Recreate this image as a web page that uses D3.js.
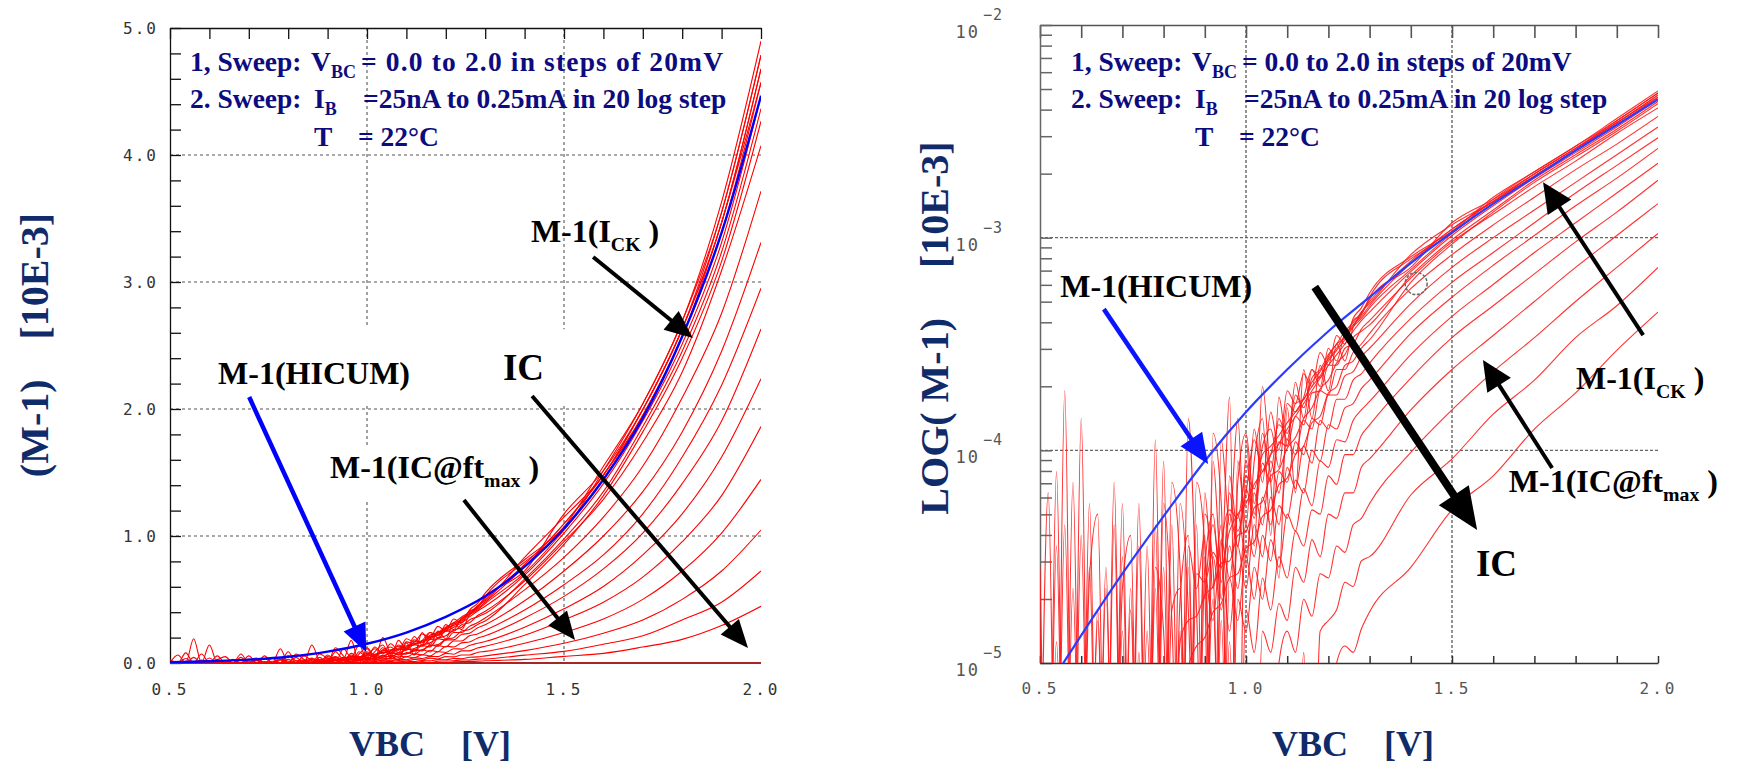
<!DOCTYPE html>
<html><head><meta charset="utf-8">
<script src="https://cdn.jsdelivr.net/npm/d3@7"></script>
<style>body{margin:0;background:#fff}svg{display:block}</style>
</head><body>
<svg id="chart" width="1753" height="768"></svg>
<script>
// ---------------- DATA (values are log10(M-1)) ----------------
const vCoarse = [0.5,0.6,0.7,0.8,0.9,1.0,1.1,1.2,1.3,1.4,1.5,1.6,1.7,1.8,1.9,2.0];
const vFine = [0.50,0.52,0.54,0.56,0.58,0.60,0.62,0.64,0.66,0.68,0.70,0.72,0.74,0.76,0.78,0.80,0.82,0.84,0.86,0.88,
               0.90,0.92,0.94,0.96,0.98,1.00,1.02,1.04,1.06,1.08,1.10,1.12,1.14,1.16,1.18,1.20,1.22,1.24,1.26,1.28];
const vMid = [0.90,0.92,0.94,0.96,0.98,1.00,1.02,1.04,1.06,1.08,1.10,1.12,1.14,1.16,1.18,1.20,1.22,1.24,1.26,1.28];
const vTail = [1.3,1.4,1.5,1.6,1.7,1.8,1.9,2.0];

// HICUM model (blue)
const hicumLog = [-5.17,-4.87,-4.58,-4.31,-4.05,-3.82,-3.62,-3.44,-3.28,-3.12,-2.975,-2.84,-2.715,-2.59,-2.47,-2.35];

// low-IB measured curves: noisy part (20 mV steps, 0.50..1.28 V); -6 = below range / negative
const lowIbFine = [
 [-6,-4.2,-6,-3.72,-6,-6,-4.55,-6,-6,-4.15,-6,-4.75,-6,-6,-3.95,-6,-4.35,-6,-3.85,-4.75,-6,-4.05,-4.55,-3.75,-6,-3.95,-4.45,-3.7,-4.15,-4.6,-3.8,-4.2,-3.62,-3.85,-3.6,-3.72,-3.5,-3.58,-3.42,-3.36],
 [-4.55,-6,-6,-4.35,-6,-3.85,-6,-6,-4.65,-6,-4.25,-6,-6,-4.45,-6,-4.05,-6,-4.85,-6,-4.15,-4.45,-6,-3.95,-4.35,-3.85,-4.55,-4.05,-3.85,-4.4,-3.75,-3.98,-3.68,-3.85,-3.62,-3.7,-3.52,-3.58,-3.45,-3.42,-3.35],
 [-6,-6,-4.45,-6,-4.15,-6,-6,-4.75,-6,-4.35,-6,-6,-4.25,-6,-4.65,-6,-4.15,-4.55,-6,-4.35,-6,-3.92,-4.25,-6,-4.15,-3.92,-4.25,-3.98,-3.9,-4.08,-3.78,-3.82,-3.75,-3.62,-3.66,-3.56,-3.5,-3.47,-3.39,-3.36],
 [-6,-6,-6,-6,-4.65,-6,-4.25,-6,-6,-6,-4.85,-6,-4.45,-6,-6,-4.55,-6,-4.25,-4.75,-6,-4.3,-4.55,-6,-4.12,-4.38,-4.2,-3.95,-4.1,-4.02,-3.88,-3.92,-3.78,-3.76,-3.68,-3.63,-3.57,-3.52,-3.46,-3.41,-3.37],
 [-6,-6,-6,-6,-6,-6,-6,-6,-4.55,-6,-6,-4.65,-6,-6,-4.55,-4.85,-6,-6,-4.45,-4.65,-4.4,-6,-4.45,-4.28,-4.32,-4.12,-4.18,-4.02,-3.98,-3.93,-3.87,-3.82,-3.76,-3.7,-3.65,-3.58,-3.53,-3.48,-3.42,-3.38],
 [-6,-6,-6,-6,-6,-6,-6,-6,-6,-6,-6,-6,-6,-4.85,-6,-6,-4.75,-4.65,-6,-4.58,-4.62,-4.48,-4.55,-4.38,-4.3,-4.25,-4.16,-4.1,-4.02,-3.97,-3.9,-3.84,-3.78,-3.72,-3.66,-3.6,-3.55,-3.5,-3.44,-3.39],
 [-6,-6,-6,-6,-6,-6,-6,-6,-6,-6,-6,-6,-6,-6,-6,-6,-6,-4.9,-4.8,-4.78,-4.68,-4.64,-4.53,-4.52,-4.4,-4.38,-4.27,-4.24,-4.12,-4.09,-3.99,-3.94,-3.85,-3.8,-3.71,-3.67,-3.59,-3.55,-3.47,-3.44],
 [-6,-6,-6,-6,-6,-6,-6,-6,-6,-6,-6,-6,-6,-6,-6,-6,-6,-6,-5.02,-4.92,-4.88,-4.76,-4.72,-4.6,-4.58,-4.46,-4.43,-4.31,-4.28,-4.16,-4.13,-4.02,-3.98,-3.87,-3.84,-3.73,-3.7,-3.6,-3.58,-3.52],
 [-6,-6,-4.9,-6,-6,-4.4,-6,-4.8,-6,-6,-4.5,-6,-4.95,-6,-4.35,-6,-6,-4.7,-4.4,-6,-4.55,-4.3,-4.7,-4.2,-4.45,-4.05,-4.3,-3.92,-4.1,-3.85,-3.95,-3.74,-3.8,-3.66,-3.62,-3.55,-3.5,-3.44,-3.4,-3.35],
 [-4.8,-6,-4.1,-6,-6,-6,-4.6,-4.3,-6,-6,-4.65,-4.4,-6,-6,-6,-4.25,-4.8,-6,-4.55,-6,-4.2,-4.65,-4.35,-6,-4.05,-4.35,-3.9,-4.15,-3.82,-4.0,-3.72,-3.78,-3.64,-3.7,-3.54,-3.6,-3.46,-3.5,-3.38,-3.33]
];
// low-IB measured curves: upper part (1.3..2.0 V)
const lowIbTail = [
 [-3.28,-3.10,-2.98,-2.82,-2.69,-2.57,-2.44,-2.31],
 [-3.31,-3.08,-2.94,-2.83,-2.70,-2.58,-2.45,-2.32],
 [-3.29,-3.14,-2.93,-2.82,-2.70,-2.58,-2.46,-2.33],
 [-3.32,-3.12,-2.96,-2.83,-2.71,-2.59,-2.46,-2.34],
 [-3.33,-3.15,-2.98,-2.84,-2.71,-2.59,-2.47,-2.34],
 [-3.35,-3.16,-2.99,-2.85,-2.72,-2.60,-2.48,-2.35],
 [-3.41,-3.18,-3.01,-2.87,-2.73,-2.61,-2.49,-2.36],
 [-3.48,-3.21,-3.03,-2.88,-2.74,-2.62,-2.50,-2.37],
 [-3.30,-3.11,-2.96,-2.83,-2.70,-2.58,-2.46,-2.33],
 [-3.26,-3.09,-2.97,-2.81,-2.69,-2.57,-2.45,-2.32]
];
// high-IB measured curves: low part (20 mV steps, 0.90..1.28 V)
const highIbMid = [
 [-4.7,-4.35,-4.62,-4.3,-4.45,-4.18,-4.32,-4.06,-4.15,-3.96,-3.98,-3.84,-3.88,-3.73,-3.72,-3.6,-3.6,-3.52,-3.5,-3.43],
 [-4.5,-4.8,-4.42,-4.6,-4.3,-4.5,-4.2,-4.35,-4.05,-4.2,-3.95,-4.02,-3.86,-3.9,-3.72,-3.74,-3.62,-3.62,-3.54,-3.5],
 [-6,-4.5,-4.75,-4.45,-4.65,-4.35,-4.5,-4.22,-4.35,-4.1,-4.15,-3.96,-4.02,-3.85,-3.88,-3.74,-3.74,-3.65,-3.63,-3.56],
 [-4.6,-6,-4.55,-4.85,-4.45,-4.65,-4.35,-4.5,-4.22,-4.35,-4.08,-4.18,-3.98,-4.06,-3.86,-3.9,-3.76,-3.76,-3.67,-3.64],
 [-6,-4.7,-6,-4.6,-4.8,-4.5,-4.7,-4.4,-4.52,-4.26,-4.32,-4.14,-4.2,-4.0,-4.05,-3.88,-3.9,-3.8,-3.78,-3.71],
 [-6,-6,-4.8,-6,-4.7,-4.85,-4.55,-4.7,-4.42,-4.55,-4.3,-4.38,-4.18,-4.26,-4.05,-4.08,-3.95,-3.96,-3.86,-3.81],
 [-6,-6,-6,-4.9,-6,-4.75,-4.95,-4.6,-4.75,-4.5,-4.6,-4.38,-4.45,-4.28,-4.3,-4.12,-4.16,-4.02,-4.02,-3.93],
 [-6,-6,-6,-6,-6,-5.0,-6,-4.85,-4.95,-4.72,-4.8,-4.55,-4.62,-4.42,-4.5,-4.3,-4.32,-4.2,-4.2,-4.08],
 [-6,-6,-6,-6,-6,-6,-6,-6,-6,-5.0,-4.85,-4.95,-4.7,-4.78,-4.58,-4.6,-4.45,-4.48,-4.35,-4.32],
 [-6,-6,-6,-6,-6,-6,-6,-6,-6,-6,-6,-6,-4.95,-6,-4.85,-4.8,-4.75,-4.62,-4.64,-4.52],
 [-6,-6,-6,-6,-6,-6,-6,-6,-6,-6,-6,-6,-6,-6,-6,-6,-5.0,-4.92,-4.95,-4.84]
];
// high-IB measured curves: upper part (1.3..2.0 V)
const highIbTail = [
 [-3.39,-3.19,-3.02,-2.89,-2.76,-2.64,-2.51,-2.39],
 [-3.45,-3.24,-3.08,-2.94,-2.81,-2.68,-2.56,-2.43],
 [-3.52,-3.31,-3.14,-3.00,-2.87,-2.74,-2.61,-2.48],
 [-3.59,-3.38,-3.21,-3.07,-2.93,-2.79,-2.66,-2.53],
 [-3.67,-3.45,-3.28,-3.13,-2.99,-2.85,-2.72,-2.58],
 [-3.77,-3.55,-3.37,-3.22,-3.07,-2.93,-2.79,-2.65],
 [-3.88,-3.66,-3.47,-3.32,-3.17,-3.02,-2.88,-2.73],
 [-4.04,-3.81,-3.62,-3.46,-3.30,-3.14,-2.99,-2.84],
 [-4.25,-4.01,-3.81,-3.63,-3.47,-3.30,-3.14,-2.98],
 [-4.50,-4.21,-4.04,-3.83,-3.67,-3.47,-3.32,-3.14],
 [-4.76,-4.55,-4.28,-4.12,-3.90,-3.73,-3.53,-3.35]
];
// highest IB: M-1 <= 0 over the whole sweep
const maxIbLog = [-9,-9,-9,-9,-9,-9,-9,-9,-9,-9,-9,-9,-9,-9,-9,-9];

const xTickVals = [0.5,1.0,1.5,2.0];
const linTickVals = [0,1,2,3,4,5];
const logTickVals = [1e-5,1e-4,1e-3,1e-2];
const xGridVals = [1.0,1.5];
const linGridVals = [1,2,3,4];
const logGridVals = [1e-4,1e-3];

// annotations (data coordinates)
const annL = {
  labels:[
    {parts:[["M-1(I"],["CK",1],[" )"]], v:1.416, m:3.315, size:32},
    {parts:[["M-1(HICUM)"]], v:0.622, m:2.197, size:32, box:[8,34,8,12]},
    {parts:[["IC"]], v:1.345, m:2.228, size:37, box:[8,24,27,18]},
    {parts:[["M-1(IC@ft"],["max",1],[" )"]], v:0.906, m:1.457, size:32, box:[8,8,8,10]}
  ],
  arrows:[
    {a:[0.701,2.094], b:[0.998,0.087], c:"#0000ff", w:4.5, hl:28, hw:24},
    {a:[1.574,3.197], b:[1.827,2.559], c:"#000", w:4, hl:28, hw:24},
    {a:[1.419,2.102], b:[1.967,0.118], c:"#000", w:4, hl:28, hw:24},
    {a:[1.246,1.283], b:[1.528,0.181], c:"#000", w:4, hl:28, hw:24}
  ]
};
const annR = {
  labels:[
    {parts:[["M-1(HICUM)"]], v:0.549, lg:-3.279, size:32},
    {parts:[["IC"]], v:1.558, lg:-4.591, size:37},
    {parts:[["M-1(I"],["CK",1],[" )"]], v:1.801, lg:-3.712, size:32},
    {parts:[["M-1(IC@ft"],["max",1],[" )"]], v:1.638, lg:-4.196, size:32}
  ],
  arrows:[
    {a:[0.655,-3.336], b:[0.908,-4.064], c:"#0a14ff", w:4.5, hl:30, hw:26},
    {a:[1.167,-3.232], b:[1.561,-4.375], c:"#000", w:8, hl:42, hw:36},
    {a:[1.964,-3.458], b:[1.721,-2.739], c:"#000", w:4, hl:30, hw:28},
    {a:[1.743,-4.083], b:[1.575,-3.575], c:"#000", w:4, hl:30, hw:28}
  ],
  circle:{v:1.413, lg:-3.216}
};

// ---------------- DRAWING ----------------
const svg = d3.select("#chart");
const SERIF = "'Liberation Serif','Times New Roman',serif";
const MONO = "'DejaVu Sans Mono',monospace";
const NAVY = "#0c0c80", TITLE = "#102b6a";

const xL = d3.scaleLinear([0.5,2.0],[170,761]);
const yL = d3.scaleLinear([0,5],[663,28]);
const xR = d3.scaleLinear([0.5,2.0],[1040,1658]);
const yR = d3.scaleLog([1e-5,1e-2],[663,25]);

function buildSeries(){
  const out = [];
  lowIbFine.forEach((f,k)=>{
    out.push(vFine.map((v,i)=>[v,f[i]]).concat(vTail.map((v,i)=>[v,lowIbTail[k][i]])));
  });
  highIbMid.forEach((f,k)=>{
    out.push(vMid.map((v,i)=>[v,f[i]]).concat(vTail.map((v,i)=>[v,highIbTail[k][i]])));
  });
  out.push(vCoarse.map((v,i)=>[v,maxIbLog[i]]));
  return out;
}
const measured = buildSeries();
const hicum = vCoarse.map((v,i)=>[v,hicumLog[i]]);

const defs = svg.append("defs");
defs.append("clipPath").attr("id","clipL").append("rect")
  .attr("x",xL(0.5)).attr("y",yL(5)).attr("width",xL(2.0)-xL(0.5)).attr("height",yL(0)-yL(5)+1.5);
defs.append("clipPath").attr("id","clipR").append("rect")
  .attr("x",xR(0.5)).attr("y",yR(1e-2)).attr("width",xR(2.0)-xR(0.5)).attr("height",yR(1e-5)-yR(1e-2));

function label(g,x,y,parts,size,color){
  const t = g.append("text").attr("x",x).attr("y",y).attr("font-family",SERIF)
    .attr("font-weight","bold").attr("font-size",size).attr("fill",color||"#000").style("white-space","pre");
  let shifted = false;
  parts.forEach(p=>{
    const ts = t.append("tspan").text(p[0]);
    if(p[1]){ ts.attr("font-size",size*0.62).attr("dy",size*0.27); shifted=true; }
    else if(shifted){ ts.attr("dy",-size*0.27); shifted=false; }
  });
  return t;
}
function arrow(g,x1,y1,x2,y2,c,w,hl,hw){
  const dx=x2-x1, dy=y2-y1, L=Math.hypot(dx,dy), ux=dx/L, uy=dy/L;
  const bx=x2-ux*hl, by=y2-uy*hl;
  g.append("line").attr("x1",x1).attr("y1",y1).attr("x2",bx+ux*3).attr("y2",by+uy*3)
    .attr("stroke",c).attr("stroke-width",w);
  g.append("path").attr("d",`M${x2},${y2}L${bx-uy*hw/2},${by+ux*hw/2}L${bx+uy*hw/2},${by-ux*hw/2}Z`).attr("fill",c);
}
function infoText(g,x0,line1Len){
  const s=27.5, sub=18;
  label(g,x0,71,[["1, Sweep:"]],s,NAVY);
  const v = g.append("text").attr("x",x0+121).attr("y",71).attr("font-family",SERIF).attr("font-weight","bold")
    .attr("font-size",s).attr("fill",NAVY);
  v.append("tspan").text("V"); v.append("tspan").attr("font-size",sub).attr("dy",7).text("BC");
  const l1 = label(g,x0+171,71,[["= 0.0 to 2.0 in steps of 20mV"]],s,NAVY);
  if(line1Len) l1.attr("textLength",line1Len).attr("lengthAdjust","spacing");
  label(g,x0,108,[["2. Sweep:"]],s,NAVY);
  const ib = g.append("text").attr("x",x0+124).attr("y",108).attr("font-family",SERIF).attr("font-weight","bold")
    .attr("font-size",s).attr("fill",NAVY);
  ib.append("tspan").text("I"); ib.append("tspan").attr("font-size",sub).attr("dy",7).text("B");
  label(g,x0+173,108,[["=25nA to 0.25mA in 20 log step"]],s,NAVY);
  label(g,x0+124,146,[["T"]],s,NAVY);
  label(g,x0+168,146,[["= 22°C"]],s,NAVY);
}

// ===== LEFT PLOT =====
const gl = svg.append("g");
gl.selectAll(".hg").data(linGridVals).join("line").attr("x1",xL(0.5)).attr("x2",xL(2.0))
  .attr("y1",d=>yL(d)).attr("y2",d=>yL(d)).attr("stroke","#555").attr("stroke-dasharray","3,3").attr("stroke-width",1.1);
gl.selectAll(".vg").data(xGridVals).join("line").attr("y1",yL(5)).attr("y2",yL(0))
  .attr("x1",d=>xL(d)).attr("x2",d=>xL(d)).attr("stroke","#555").attr("stroke-dasharray","3,3").attr("stroke-width",1.1);
gl.append("g").attr("transform",`translate(0,${yL(5)})`)
  .call(d3.axisBottom(xL).ticks(15).tickSize(11).tickSizeOuter(0).tickFormat(""))
  .call(g=>g.selectAll("line,path").attr("stroke","#111").attr("stroke-width",1.3));
gl.append("g").attr("transform",`translate(${xL(0.5)},0)`)
  .call(d3.axisRight(yL).ticks(25).tickSize(11).tickSizeOuter(0).tickFormat(""))
  .call(g=>g.selectAll("line,path").attr("stroke","#111").attr("stroke-width",1.3));
gl.append("line").attr("x1",xL(0.5)).attr("x2",xL(2.0)).attr("y1",yL(0)).attr("y2",yL(0)).attr("stroke","#111").attr("stroke-width",1.3);
gl.append("g").attr("transform",`translate(${xL(0.5)},0)`)
  .call(d3.axisLeft(yL).tickValues(linTickVals).tickSize(0).tickPadding(12).tickFormat(d3.format(".1f")))
  .call(g=>g.select(".domain").remove())
  .call(g=>g.selectAll("text").attr("font-family",MONO).attr("font-size",16).attr("fill","#333").attr("letter-spacing",2));
gl.append("g").attr("transform",`translate(0,${yL(0)})`)
  .call(d3.axisBottom(xL).tickValues(xTickVals).tickSize(0).tickPadding(21).tickFormat(d3.format(".1f")))
  .call(g=>g.select(".domain").remove())
  .call(g=>g.selectAll("text").attr("font-family",MONO).attr("font-size",16).attr("fill","#333").attr("letter-spacing",3));
const lineL = d3.line().x(d=>xL(d[0])).y(d=>yL(Math.pow(10,d[1])*1e3)).curve(d3.curveMonotoneX);
const cl = gl.append("g").attr("clip-path","url(#clipL)");
cl.selectAll(".m").data(measured).join("path").attr("d",lineL).attr("fill","none").attr("stroke","#ff0000").attr("stroke-width",1.1);
cl.append("path").datum(hicum).attr("d",lineL).attr("fill","none").attr("stroke","#0000ff").attr("stroke-width",2.4);
infoText(gl,190,362);
annL.labels.forEach(l=>{
  const x=xL(l.v), y=yL(l.m);
  const t = label(gl,x,y,l.parts,l.size);
  if(l.box){
    const b=t.node().getBBox();
    gl.insert("rect",()=>t.node()).attr("x",b.x-l.box[0]).attr("y",b.y-l.box[1]+(b.height*0.15))
      .attr("width",b.width+l.box[0]+l.box[2]).attr("height",b.height*0.85+l.box[1]+l.box[3]).attr("fill","#fff");
  }
});
annL.arrows.forEach(a=>arrow(gl,xL(a.a[0]),yL(a.a[1]),xL(a.b[0]),yL(a.b[1]),a.c,a.w,a.hl,a.hw));
gl.append("text").attr("transform",`translate(48,345) rotate(-90)`).attr("text-anchor","middle")
  .attr("font-family",SERIF).attr("font-weight","bold").attr("font-size",40).attr("fill",TITLE)
  .style("white-space","pre").text("(M-1)    [10E-3]");
gl.append("text").attr("x",430).attr("y",756).attr("text-anchor","middle")
  .attr("font-family",SERIF).attr("font-weight","bold").attr("font-size",36).attr("fill",TITLE)
  .style("white-space","pre").text("VBC    [V]");

// ===== RIGHT PLOT =====
const gr = svg.append("g");
gr.selectAll(".hg").data(logGridVals).join("line").attr("x1",xR(0.5)).attr("x2",xR(2.0))
  .attr("y1",d=>yR(d)).attr("y2",d=>yR(d)).attr("stroke","#666").attr("stroke-dasharray","3,2").attr("stroke-width",1.4);
gr.selectAll(".vg").data(xGridVals).join("line").attr("y1",yR(1e-2)).attr("y2",yR(1e-5))
  .attr("x1",d=>xR(d)).attr("x2",d=>xR(d)).attr("stroke","#666").attr("stroke-dasharray","3,2").attr("stroke-width",1.4);
gr.append("g").attr("transform",`translate(0,${yR(1e-2)})`)
  .call(d3.axisBottom(xR).ticks(15).tickSize(13).tickSizeOuter(0).tickFormat(""))
  .call(g=>g.selectAll("line,path").attr("stroke","#555").attr("stroke-width",1.6));
gr.append("g").attr("transform",`translate(${xR(0.5)},0)`)
  .call(d3.axisRight(yR).tickValues(yR.ticks()).tickSize(12).tickSizeOuter(0).tickFormat(""))
  .call(g=>g.selectAll("line,path").attr("stroke","#666").attr("stroke-width",1.5));
gr.append("g").attr("transform",`translate(0,${yR(1e-5)})`)
  .call(d3.axisTop(xR).ticks(15).tickSize(7).tickSizeOuter(0).tickFormat(""))
  .call(g=>g.selectAll("line,path").attr("stroke","#333").attr("stroke-width",1.5));
logTickVals.forEach(v=>{
  const y=yR(v);
  gr.append("text").attr("x",980).attr("y",y+13).attr("text-anchor","end")
    .attr("font-family",MONO).attr("font-size",17).attr("fill","#555").attr("letter-spacing",2).text("10");
  gr.append("text").attr("x",983).attr("y",y-5).attr("font-family",MONO).attr("font-size",15)
    .attr("fill","#555").attr("letter-spacing",1).text("−"+Math.round(-Math.log10(v)));
});
gr.append("g").attr("transform",`translate(0,${yR(1e-5)})`)
  .call(d3.axisBottom(xR).tickValues(xTickVals).tickSize(0).tickPadding(20).tickFormat(d3.format(".1f")))
  .call(g=>g.select(".domain").remove())
  .call(g=>g.selectAll("text").attr("font-family",MONO).attr("font-size",16).attr("fill","#555").attr("letter-spacing",3));
const lineR = d3.line().x(d=>xR(d[0])).y(d=>yR(Math.pow(10,d[1]))).curve(d3.curveMonotoneX);
const cr = gr.append("g").attr("clip-path","url(#clipR)");
cr.selectAll(".m").data(measured).join("path").attr("d",lineR).attr("fill","none").attr("stroke","#ff1a1a").attr("stroke-width",1.1).attr("opacity",0.9);
cr.append("path").datum(hicum).attr("d",lineR).attr("fill","none").attr("stroke","#2a3cff").attr("stroke-width",2.2);
gr.append("circle").attr("cx",xR(annR.circle.v)).attr("cy",yR(Math.pow(10,annR.circle.lg))).attr("r",11)
  .attr("fill","none").attr("stroke","#666").attr("stroke-width",1.5).attr("stroke-dasharray","3,1.5");
infoText(gr,1071,null);
annR.labels.forEach(l=>label(gr,xR(l.v),yR(Math.pow(10,l.lg)),l.parts,l.size));
annR.arrows.forEach(a=>arrow(gr,xR(a.a[0]),yR(Math.pow(10,a.a[1])),xR(a.b[0]),yR(Math.pow(10,a.b[1])),a.c,a.w,a.hl,a.hw));
gr.append("text").attr("transform",`translate(948,328) rotate(-90)`).attr("text-anchor","middle")
  .attr("font-family",SERIF).attr("font-weight","bold").attr("font-size",40).attr("fill",TITLE)
  .style("white-space","pre").text("LOG( M-1)     [10E-3]");
gr.append("text").attr("x",1353).attr("y",756).attr("text-anchor","middle")
  .attr("font-family",SERIF).attr("font-weight","bold").attr("font-size",36).attr("fill",TITLE)
  .style("white-space","pre").text("VBC    [V]");
</script>
</body></html>
